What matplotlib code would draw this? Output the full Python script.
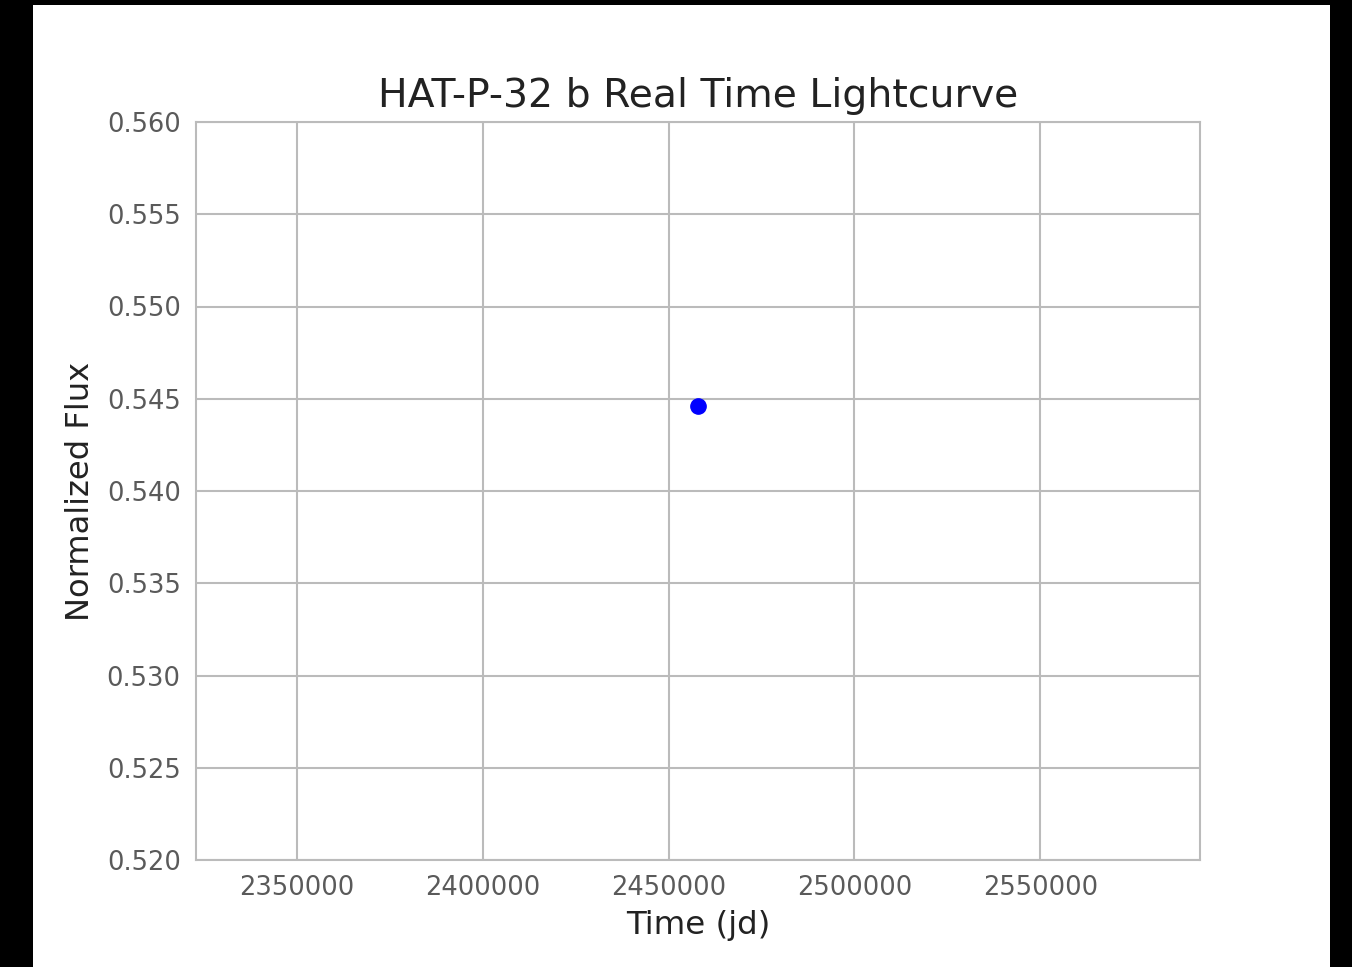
import matplotlib
matplotlib.use("Agg")
import matplotlib.pyplot as plt
from matplotlib.patches import Rectangle

# data
time_jd = [2457800]
flux = [0.54458]

x_ticks = [2350000, 2400000, 2450000, 2500000, 2550000]
y_ticks = [0.520, 0.525, 0.530, 0.535, 0.540, 0.545, 0.550, 0.555, 0.560]
x_lim = (2322800, 2593000)
y_lim = (0.520, 0.560)

W, H = 1352, 967
fig = plt.figure(figsize=(W / 100, H / 100), dpi=100, facecolor="black")
# white canvas inside the black frame
fig.patches.append(Rectangle((33 / W, 0), (1330 - 33) / W, (H - 5) / H,
                             transform=fig.transFigure, facecolor="white",
                             edgecolor="none", zorder=-10))

ax = fig.add_axes([196 / W, (H - 860) / H, (1200 - 196) / W, (860 - 122) / H])
ax.set_zorder(1)
ax.set_facecolor("white")
ax.plot(time_jd, flux, "o", color="blue", markersize=11)

ax.set_xlim(*x_lim)
ax.set_ylim(*y_lim)
ax.set_xticks(x_ticks)
ax.set_yticks(y_ticks)
ax.set_xticklabels([str(t) for t in x_ticks])
ax.set_yticklabels([f"{t:.3f}" for t in y_ticks])
ax.tick_params(length=0, labelsize=18.5, labelcolor="#5a5a5a", pad=11)
ax.grid(True, color="#bbbbbb", linewidth=1.5)
ax.set_axisbelow(True)
for s in ax.spines.values():
    s.set_color("#bbbbbb")
    s.set_linewidth(1.5)

ax.set_title("HAT-P-32 b Real Time Lightcurve", fontsize=28.4, color="#222222", pad=11)
ax.set_xlabel("Time (jd)", fontsize=23.4, color="#222222", labelpad=6)
ax.set_ylabel("Normalized Flux", fontsize=23.2, color="#222222", labelpad=8)

fig.savefig("out.png", dpi=100, facecolor=fig.get_facecolor())
